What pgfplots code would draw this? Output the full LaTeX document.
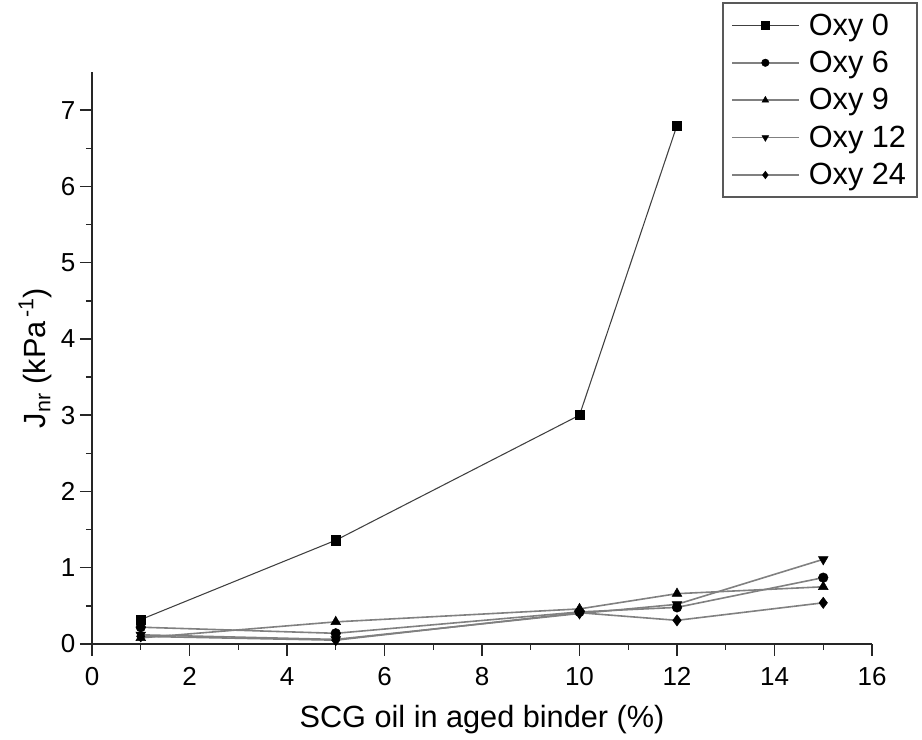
\documentclass[border=0pt]{standalone}
\usepackage{fontspec}
\setmainfont{Liberation Sans}
\usepackage{pgfplots}
\pgfplotsset{compat=1.18}
\begin{document}
\begin{tikzpicture}
\begin{axis}[name=ax, scale only axis, width=585pt, height=429pt,
 xmin=0, xmax=16, ymin=0, ymax=7.5,
 axis lines=left, axis line style={-, line width=1.1pt, black!85},
 xtick={0,2,...,16}, minor x tick num=1, ytick={0,1,...,7}, minor y tick num=1,
 tick align=outside, major tick length=9pt, minor tick length=4.5pt,
 tick style={line width=1.1pt, black!85},
 /pgf/number format/assume math mode=true,
 ticklabel style={font=\fontsize{19.5}{21}\selectfont},
 xticklabel style={yshift=-5pt},
 xlabel={SCG oil in aged binder (\%)},
 ylabel={J\textsubscript{nr} (kPa\textsuperscript{\,-1})},
 label style={font=\fontsize{23}{26}\selectfont},
 xlabel style={yshift=-8pt},
 legend style={at={(0.808,1.1224)}, anchor=north west, draw=black!65, line width=1.5pt,
   font=\fontsize{23}{26}\selectfont, row sep=6.5pt, column sep=5pt, inner xsep=6pt, inner ysep=6pt},
 legend cell align=left,
 legend image code/.code={\draw[mark repeat=2,mark phase=2,mark size=2.8pt] plot coordinates {(0pt,0pt) (25pt,0pt) (50pt,0pt)};},
]
\addplot[black!75, line width=0.8pt, mark=square*, mark size=3.4pt, mark options={black, solid, line width=0.4pt}]
 coordinates {(1,0.32) (5,1.36) (10,3.0) (12,6.8)};
\addlegendentry{Oxy 0}
\addplot[black!50, line width=1.2pt, mark=*, mark size=3.6pt, mark options={black, solid, line width=0.4pt}]
 coordinates {(1,0.22) (5,0.14) (10,0.42) (12,0.48) (15,0.87)};
\addlegendentry{Oxy 6}
\addplot[black!50, line width=1.2pt, mark=triangle*, mark size=4.2pt, mark options={black, solid, line width=0.4pt}]
 coordinates {(1,0.08) (5,0.29) (10,0.46) (12,0.66) (15,0.75)};
\addlegendentry{Oxy 9}
\addplot[black!50, line width=1.2pt, mark=triangle*, mark size=4.2pt, mark options={black, solid, rotate=180, line width=0.4pt}]
 coordinates {(1,0.12) (5,0.06) (10,0.40) (12,0.52) (15,1.11)};
\addlegendentry{Oxy 12}
\addplot[black!50, line width=1.2pt, mark=diamond*, mark size=4.2pt, mark options={black, solid, line width=0.4pt}]
 coordinates {(1,0.10) (5,0.05) (10,0.41) (12,0.31) (15,0.54)};
\addlegendentry{Oxy 24}
\end{axis}
\pgfresetboundingbox
\path ([shift={(-69pt,-72pt)}]ax.south west) rectangle ([shift={(37.5pt,54pt)}]ax.north east);
\end{tikzpicture}
\end{document}
